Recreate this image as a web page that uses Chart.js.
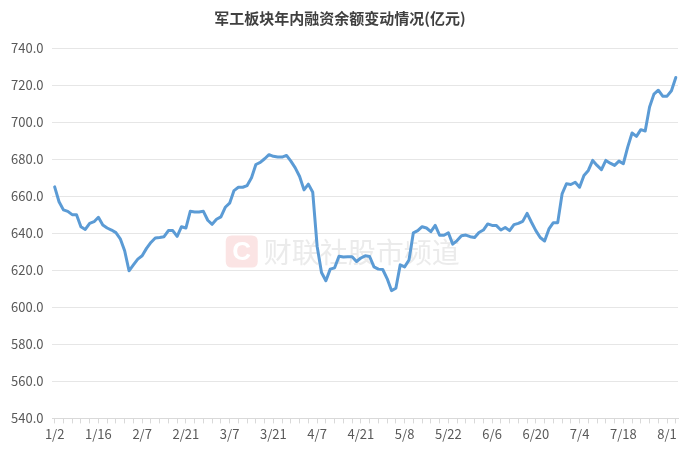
<!DOCTYPE html>
<html>
<head>
<meta charset="utf-8">
<script src="https://cdn.jsdelivr.net/npm/chart.js@4/dist/chart.umd.min.js"></script>
<style>
  html, body { margin: 0; padding: 0; background: #ffffff; }
  #wrap { width: 692px; height: 453px; position: relative; }
</style>
</head>
<body>
<div id="wrap"><canvas id="c" width="692" height="453"></canvas></div>
<script>
// Trading days (2025)
const dates = [
  '1/2','1/3','1/6','1/7','1/8','1/9','1/10','1/13','1/14','1/15','1/16','1/17','1/20','1/21','1/22','1/23','1/24','1/27',
  '2/5','2/6','2/7','2/10','2/11','2/12','2/13','2/14','2/17','2/18','2/19','2/20','2/21','2/24','2/25','2/26','2/27','2/28',
  '3/3','3/4','3/5','3/6','3/7','3/10','3/11','3/12','3/13','3/14','3/17','3/18','3/19','3/20','3/21','3/24','3/25','3/26','3/27','3/28','3/31',
  '4/1','4/2','4/3','4/7','4/8','4/9','4/10','4/11','4/14','4/15','4/16','4/17','4/18','4/21','4/22','4/23','4/24','4/25','4/28','4/29','4/30',
  '5/6','5/7','5/8','5/9','5/12','5/13','5/14','5/15','5/16','5/19','5/20','5/21','5/22','5/23','5/26','5/27','5/28','5/29','5/30',
  '6/3','6/4','6/5','6/6','6/9','6/10','6/11','6/12','6/13','6/16','6/17','6/18','6/19','6/20','6/23','6/24','6/25','6/26','6/27','6/30',
  '7/1','7/2','7/3','7/4','7/7','7/8','7/9','7/10','7/11','7/14','7/15','7/16','7/17','7/18','7/21','7/22','7/23','7/24','7/25','7/28','7/29','7/30','7/31',
  '8/1','8/4','8/5'
];

// Financing balance (亿元)
const balance = [
  665.0,657.0,652.6,651.8,650.0,650.0,643.5,642.0,645.3,646.2,648.6,644.4,642.8,641.7,640.3,637.0,630.5,619.7,
  622.9,626.0,627.8,631.8,635.0,637.4,637.7,638.1,641.4,641.4,638.3,643.5,642.8,651.8,651.5,651.5,651.8,647.0,
  644.8,647.5,648.8,654.0,656.2,663.0,664.8,664.8,665.7,669.9,677.1,678.2,680.2,682.4,681.5,681.1,681.1,682.0,678.9,675.3,670.6,
  663.4,666.5,662.1,633.0,618.8,614.3,620.6,621.3,627.6,627.1,627.3,627.3,624.7,626.6,627.8,627.4,621.8,620.6,620.4,615.5,609.0,
  610.3,622.9,621.8,625.5,640.2,641.4,643.5,642.8,640.8,644.2,638.9,638.9,640.2,634.1,636.0,638.6,639.0,638.1,637.7,
  640.4,641.7,645.0,644.2,644.1,641.7,643.1,641.4,644.6,645.3,646.4,650.7,645.9,641.4,637.7,635.8,642.3,645.7,645.7,661.2,
  666.7,666.3,667.5,664.8,671.2,673.9,679.3,676.6,674.3,679.3,677.8,676.6,678.9,677.5,686.5,694.1,692.3,695.9,695.2,708.2,715.1,717.2,714.0,
  714.0,716.9,724.1
];

const yTicks = { min: 540, max: 740, step: 20 };
const labelEvery = 10;
const tickEvery = 2;
const titleText = '军工板块年内融资余额变动情况(亿元)';
const watermarkText = '财联社股市频道';

const watermark = {
  id: 'watermark',
  beforeDatasetsDraw(chart) {
    const ctx = chart.ctx;
    const a = chart.chartArea;
    ctx.save();
    const lx = a.left + (a.right - a.left) * 0.277;
    const ly = a.top + (a.bottom - a.top) * 0.506;
    const s = 32, r = 6;
    ctx.fillStyle = '#fbe4e4';
    ctx.beginPath();
    ctx.moveTo(lx + r, ly);
    ctx.lineTo(lx + s - r, ly);
    ctx.quadraticCurveTo(lx + s, ly, lx + s, ly + r);
    ctx.lineTo(lx + s, ly + s - r);
    ctx.quadraticCurveTo(lx + s, ly + s, lx + s - r, ly + s);
    ctx.lineTo(lx + r, ly + s);
    ctx.quadraticCurveTo(lx, ly + s, lx, ly + s - r);
    ctx.lineTo(lx, ly + r);
    ctx.quadraticCurveTo(lx, ly, lx + r, ly);
    ctx.fill();
    ctx.fillStyle = '#ffffff';
    ctx.font = 'bold 26px "Liberation Sans", Arial, sans-serif';
    ctx.textAlign = 'center';
    ctx.textBaseline = 'middle';
    ctx.fillText('C', lx + s / 2, ly + s / 2 + 1);
    ctx.fillStyle = '#ebebeb';
    ctx.textAlign = 'left';
    ctx.font = '28px "Noto Sans CJK SC", sans-serif';
    ctx.fillText(watermarkText, lx + s + 6, ly + s / 2 + 1);
    ctx.restore();
  }
};

new Chart(document.getElementById('c'), {
  type: 'line',
  data: {
    labels: dates,
    datasets: [{
      data: balance,
      borderColor: '#5b9bd5',
      borderWidth: 3,
      pointRadius: 0,
      pointHoverRadius: 0,
      tension: 0,
      fill: false,
      borderJoinStyle: 'round',
      borderCapStyle: 'round'
    }]
  },
  options: {
    responsive: false,
    animation: false,
    layout: { padding: { left: 2, right: 14, top: 5, bottom: 8 } },
    plugins: {
      legend: { display: false },
      tooltip: { enabled: false },
      title: {
        display: true,
        text: titleText,
        color: '#404040',
        font: { family: '"Noto Sans CJK SC", sans-serif', size: 15, weight: 'bold' },
        padding: { top: 4, bottom: 21 }
      }
    },
    scales: {
      x: {
        type: 'category',
        offset: true,
        border: { display: true, color: '#d9d9d9', width: 1 },
        grid: {
          drawOnChartArea: false,
          drawTicks: true,
          tickLength: 5,
          offset: false,
          color: (ctx) => (ctx.index % tickEvery === 0 ? '#d9d9d9' : 'rgba(0,0,0,0)')
        },
        ticks: {
          autoSkip: false,
          maxRotation: 0,
          minRotation: 0,
          color: '#595959',
          padding: 3,
          font: { family: '"Noto Sans CJK SC", sans-serif', size: 13 },
          callback: function (v, i) { return i % labelEvery === 0 ? dates[i] : ''; }
        }
      },
      y: {
        min: yTicks.min,
        max: yTicks.max,
        border: { display: false },
        grid: { color: '#e6e6e6', lineWidth: 1, drawTicks: false },
        ticks: {
          stepSize: yTicks.step,
          color: '#595959',
          padding: 9,
          font: { family: '"Noto Sans CJK SC", sans-serif', size: 13 },
          callback: (v) => Number(v).toFixed(1)
        }
      }
    }
  },
  plugins: [watermark]
});
</script>
</body>
</html>
